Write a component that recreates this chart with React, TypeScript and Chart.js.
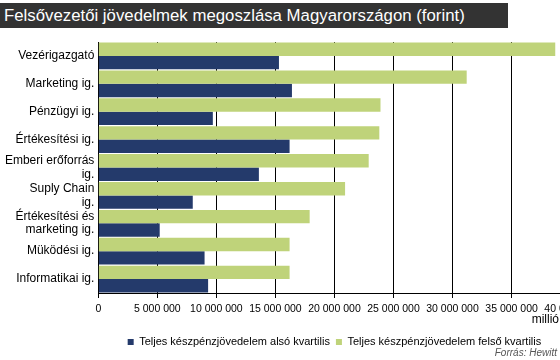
import React, { useEffect, useRef } from "react";
import { Chart, registerables } from "chart.js";

Chart.register(...registerables);

const titleText = "Felsővezetői jövedelmek megoszlása Magyarországon (forint)";
const categories: string[][] = [
  ["Vezérigazgató"],
  ["Marketing ig."],
  ["Pénzügyi ig."],
  ["Értékesítési ig."],
  ["Emberi erőforrás", "ig."],
  ["Suply Chain", "ig."],
  ["Értékesítési és", "marketing ig."],
  ["Müködési ig."],
  ["Informatikai ig."],
];
const upperLabel = "Teljes készpénzjövedelem felső kvartilis";
const lowerLabel = "Teljes készpénzjövedelem alsó kvartilis";
const upperQuartile = [38700000, 31200000, 23900000, 23800000, 22900000, 20900000, 17900000, 16200000, 16200000];
const lowerQuartile = [15300000, 16400000, 9700000, 16200000, 13600000, 8000000, 5200000, 9000000, 9300000];
const xTickLabels = ["0", "5 000 000", "10 000 000", "15 000 000", "20 000 000", "25 000 000", "30 000 000", "35 000 000", "40 000 000"];
const unitText = "millió";
const sourceText = "Forrás: Hewitt";

const GREEN = "#bfd37a";
const NAVY = "#243a6b";
const FONT = "Arial, 'Liberation Sans', sans-serif";

export default function App() {
  const canvasRef = useRef<HTMLCanvasElement | null>(null);

  useEffect(() => {
    const canvas = canvasRef.current;
    if (!canvas) return;
    const chart = new Chart(canvas, {
      type: "bar",
      data: {
        labels: categories,
        datasets: [
          {
            label: upperLabel,
            data: upperQuartile,
            backgroundColor: GREEN,
            barPercentage: 1,
            categoryPercentage: 0.96,
          },
          {
            label: lowerLabel,
            data: lowerQuartile,
            backgroundColor: NAVY,
            barPercentage: 1,
            categoryPercentage: 0.96,
          },
        ],
      },
      options: {
        indexAxis: "y",
        responsive: false,
        animation: false,
        layout: { padding: { left: 0, top: 42, right: 69.4, bottom: 2.5 } },
        scales: {
          x: {
            type: "linear",
            position: "bottom",
            min: 0,
            max: 40000000,
            ticks: {
              stepSize: 5000000,
              autoSkip: false,
              maxRotation: 0,
              padding: 5,
              color: "#000",
              font: { family: FONT, size: 10.5 },
              callback: (_v: any, i: number) => xTickLabels[i],
            },
            grid: { color: "#000", lineWidth: 1, tickLength: 5, drawTicks: true },
            border: { display: true, color: "#000" },
            afterFit: (s: any) => {
              s.height = 37.5;
              s.paddingLeft = 0;
              s.paddingRight = 0;
            },
          },
          y: {
            type: "category",
            ticks: {
              autoSkip: false,
              padding: 4,
              color: "#000",
              font: { family: FONT, size: 12, lineHeight: 1.15 },
            },
            grid: { display: false, drawTicks: false, tickLength: 0 },
            border: { display: false },
            afterFit: (s: any) => {
              s.width = 98.3;
              s.paddingTop = 0;
              s.paddingBottom = 0;
            },
          },
        },
        plugins: {
          title: { display: false },
          tooltip: { enabled: false },
          legend: {
            display: true,
            position: "bottom",
            fullSize: false,
            reverse: true,
            labels: {
              boxWidth: 6,
              boxHeight: 6,
              padding: 6,
              color: "#000",
              font: { family: FONT, size: 11 },
            },
          },
        },
      } as any,
    });
    return () => chart.destroy();
  }, []);

  return (
    <div
      style={{
        position: "fixed",
        left: 0,
        top: 0,
        width: 560,
        height: 360,
        overflow: "hidden",
        background: "#fff",
      }}
    >
      <canvas ref={canvasRef} width={640} height={360} style={{ position: "absolute", left: 0, top: 0 }} />
      <div
        style={{
          position: "absolute",
          left: 0,
          top: 3,
          width: 504,
          height: 25,
          paddingLeft: 4,
          background: "#333333",
          color: "#fff",
          font: `16.8px ${FONT}`,
          lineHeight: "25px",
          whiteSpace: "nowrap",
        }}
      >
        {titleText}
      </div>
      <div
        style={{
          position: "absolute",
          right: 1,
          top: 312,
          color: "#000",
          font: `12px ${FONT}`,
          lineHeight: "14px",
        }}
      >
        {unitText}
      </div>
      <div
        style={{
          position: "absolute",
          right: 3,
          top: 346,
          color: "#555",
          font: `italic 10px ${FONT}`,
          lineHeight: "13px",
        }}
      >
        {sourceText}
      </div>
    </div>
  );
}
